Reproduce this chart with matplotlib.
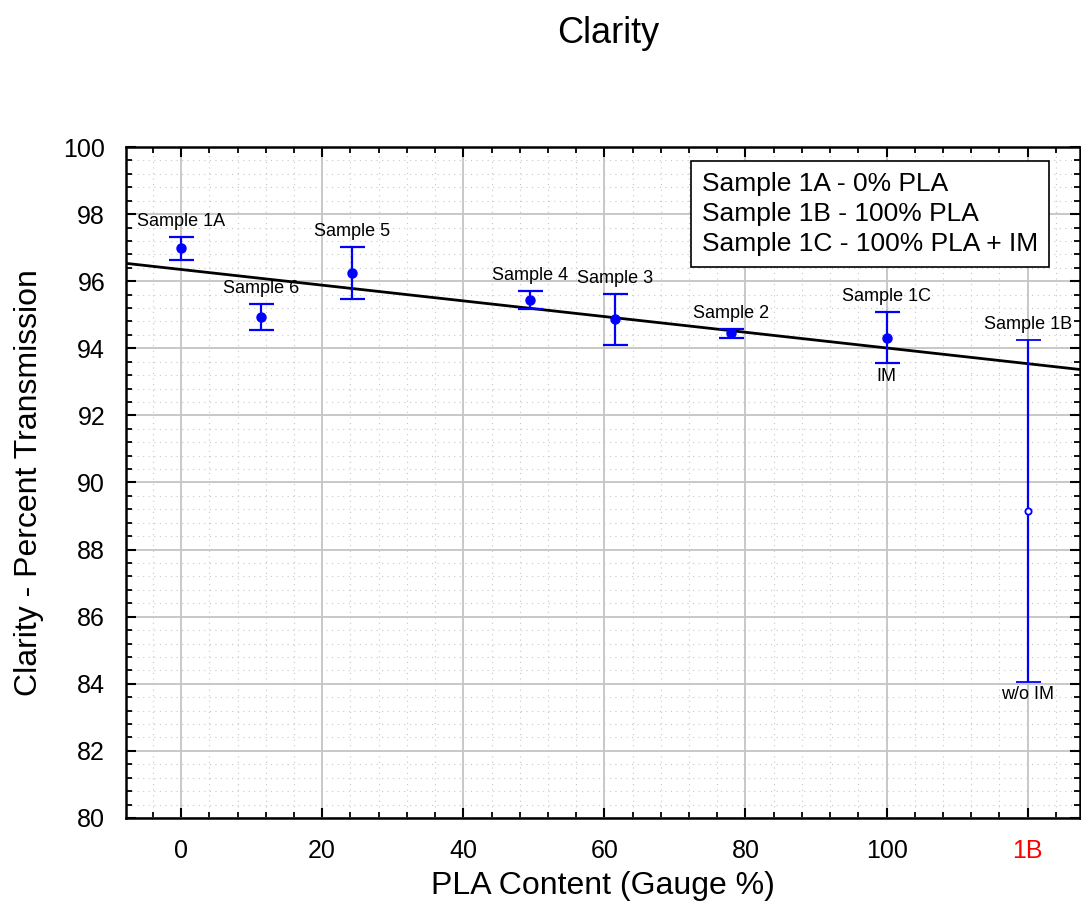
import numpy as np
import matplotlib.pyplot as plt
from matplotlib.ticker import MultipleLocator

plt.rcParams['font.family'] = ['Liberation Sans', 'DejaVu Sans']

# Sample data (x = PLA content gauge %, 1B plotted at position 120)
names = ['Sample 1A', 'Sample 6', 'Sample 5', 'Sample 4', 'Sample 3', 'Sample 2', 'Sample 1C', 'Sample 1B']
pla = [0, 11.3, 24.2, 49.4, 61.5, 78.0, 100, 120]
clarity = [96.98, 94.94, 96.24, 95.44, 94.86, 94.45, 94.32, 89.15]
err = [0.34, 0.38, 0.77, 0.27, 0.75, 0.14, 0.77, 5.1]

# trend line
trend_intercept = 96.35
trend_slope = -0.0234

xtick_pos = [0, 20, 40, 60, 80, 100, 120]
xtick_lab = ['0', '20', '40', '60', '80', '100', '1B']

legend_text = 'Sample 1A - 0% PLA\nSample 1B - 100% PLA\nSample 1C - 100% PLA + IM'

fig = plt.figure(figsize=(10.81, 9.23), dpi=100)
ax = fig.add_axes([0.1166, 0.1138, 0.8824, 0.7269])

xlim = (-7.8, 127.4)
ax.set_xlim(xlim)
ax.set_ylim(80, 100)

# grids
ax.xaxis.set_major_locator(MultipleLocator(20))
ax.xaxis.set_minor_locator(MultipleLocator(4))
ax.yaxis.set_major_locator(MultipleLocator(2))
ax.yaxis.set_minor_locator(MultipleLocator(0.4))
ax.grid(which='major', color='#c4c4c4', lw=1.3, zorder=0)
ax.grid(which='minor', color='#c8c8c8', lw=0.8, ls=(0, (1, 4)), zorder=0)
ax.set_axisbelow(True)

# regression line
xs = np.array(xlim)
ax.plot(xs, trend_intercept + trend_slope * xs, color='black', lw=2, zorder=3)

# error bars (filled points for first 7, open for 1B)
ax.errorbar(pla[:7], clarity[:7], yerr=err[:7], fmt='o', color='#0000ff', ms=6.5,
            capsize=9, capthick=1.6, elinewidth=1.6, zorder=4)
ax.errorbar(pla[7:], clarity[7:], yerr=err[7:], fmt='o', color='#0000ff', mfc='white',
            ms=4.5, mew=1.3, capsize=9, capthick=1.6, elinewidth=1.6, zorder=4)

for n, x, y, e in zip(names, pla, clarity, err):
    ax.annotate(n, (x, y + e), xytext=(0, 5), textcoords='offset points',
                ha='center', va='bottom', fontsize=13)
ax.annotate('IM', (pla[6], clarity[6] - err[6]), xytext=(0, -3), textcoords='offset points',
            ha='center', va='top', fontsize=13)
ax.annotate('w/o IM', (pla[7], clarity[7] - err[7]), xytext=(0, -3), textcoords='offset points',
            ha='center', va='top', fontsize=13)

ax.text(0.6035, 0.963, legend_text, transform=ax.transAxes, ha='left', va='top',
        fontsize=19, linespacing=1.33,
        bbox=dict(boxstyle='square,pad=0.42', fc='white', ec='black', lw=1.2))

ax.set_xticks(xtick_pos)
ax.set_xticklabels(xtick_lab)
ax.get_xticklabels()[-1].set_color('red')
ax.tick_params(which='both', direction='in', top=True, right=True, labelsize=18, width=1.5)
ax.tick_params(which='major', length=7, pad=15)
ax.tick_params(which='minor', length=4, width=1.3)
for s in ax.spines.values():
    s.set_linewidth(1.8)

ax.set_xlabel('PLA Content (Gauge %)', fontsize=23, labelpad=6)
ax.set_ylabel('Clarity - Percent Transmission', fontsize=23, labelpad=14)
fig.text(0.5625, 0.964, 'Clarity', ha='center', va='center', fontsize=26)

fig.savefig('out.png', dpi=100)
